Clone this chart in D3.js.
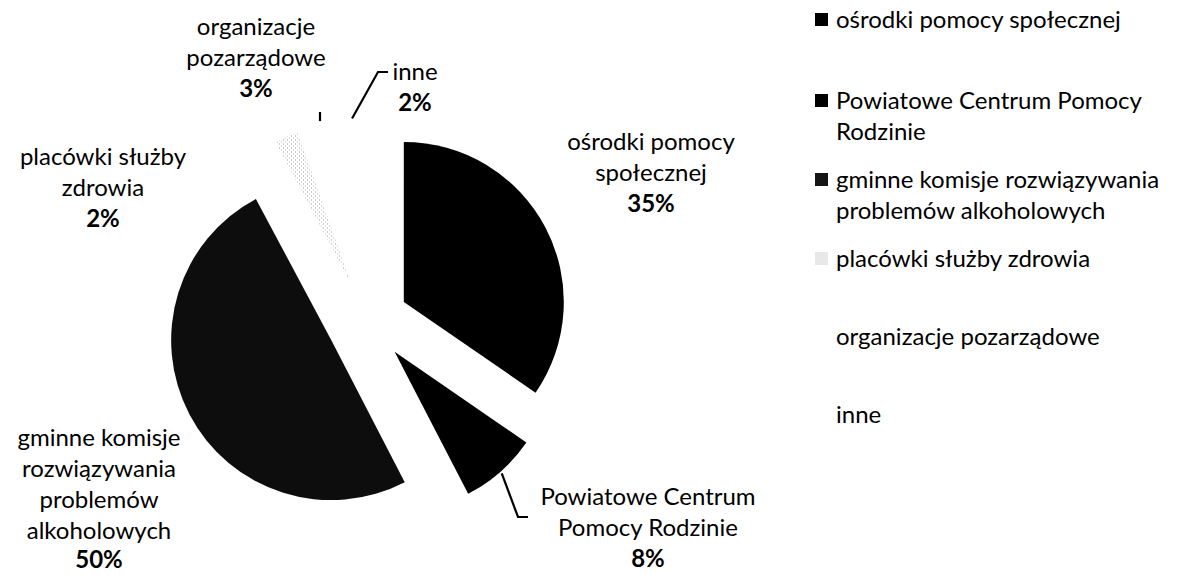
<!DOCTYPE html>
<meta charset="utf-8">
<style>
  body { margin: 0; background: #fff; }
  text { font-family: Lato, "Open Sans", sans-serif; fill: #000; }
</style>
<svg width="1182" height="575"></svg>
<script src="https://d3js.org/d3.v7.min.js"></script>
<script>

  var categories = ["ośrodki pomocy społecznej", "Powiatowe Centrum Pomocy Rodzinie",
    "gminne komisje rozwiązywania problemów alkoholowych", "placówki służby zdrowia",
    "organizacje pozarządowe", "inne"];
  var shares = [34.6, 7.8, 49.8, 2.4, 3.0, 2.4];
  var pctLabels = ["35%", "8%", "50%", "2%", "3%", "2%"];
  var sliceLabelLines = [
    ["ośrodki pomocy", "społecznej"],
    ["Powiatowe Centrum", "Pomocy Rodzinie"],
    ["gminne komisje", "rozwiązywania", "problemów", "alkoholowych"],
    ["placówki służby", "zdrowia"],
    ["organizacje", "pozarządowe"],
    ["inne"]
  ];
  var legendLines = [
    ["ośrodki pomocy społecznej"],
    ["Powiatowe Centrum Pomocy", "Rodzinie"],
    ["gminne komisje rozwiązywania", "problemów alkoholowych"],
    ["placówki służby zdrowia"],
    ["organizacje pozarządowe"],
    ["inne"]
  ];

  var svg = d3.select("svg"),
      cx = 367.5, cy = 321, radius = 160, explode = 41,
      fontSize = 24, lineH = 31;

  var defs = svg.append("defs");
  var dots = defs.append("pattern").attr("id", "stipple")
    .attr("width", 4).attr("height", 4).attr("patternUnits", "userSpaceOnUse");
  dots.append("rect").attr("x", 0).attr("y", 0).attr("width", 1).attr("height", 1).attr("fill", "#999");
  dots.append("rect").attr("x", 2).attr("y", 2).attr("width", 1).attr("height", 1).attr("fill", "#bbb");

  var fills = ["#000", "#000", "#0d0d0d", "url(#stipple)", "#fff", "#fff"];
  var legendFills = ["#000", "#000", "#151515", "#e8e8e8", "none", "none"];

  var pie = d3.pie().sort(null).value(function(d) { return d; });
  var arc = d3.arc().innerRadius(0).outerRadius(radius);
  var arcs = pie(shares);

  function mid(d) { return (d.startAngle + d.endAngle) / 2; }
  function offset(d) {
    var a = mid(d);
    return [cx + explode * Math.sin(a), cy - explode * Math.cos(a)];
  }
  function outer(d, r) {
    var a = mid(d), o = offset(d);
    return [o[0] + r * Math.sin(a), o[1] - r * Math.cos(a)];
  }

  svg.append("g").selectAll("path")
    .data(arcs)
    .enter().append("path")
    .attr("transform", function(d) { return "translate(" + offset(d) + ")"; })
    .attr("d", arc)
    .attr("fill", function(d, i) { return fills[i]; });

  // label placement (Excel style, set by hand): centre x, first baseline
  var labelPos = [[651, 150], [648, 505], [99, 446], [103, 165], [256, 35], [415, 80]];

  var labels = svg.append("g").attr("text-anchor", "middle").style("font-size", fontSize + "px");
  arcs.forEach(function(d, i) {
    var lines = sliceLabelLines[i];
    var t = labels.append("text").attr("x", labelPos[i][0]).attr("y", labelPos[i][1]);
    lines.forEach(function(s, j) {
      t.append("tspan").attr("x", labelPos[i][0]).attr("dy", j === 0 ? 0 : lineH).text(s);
    });
    t.append("tspan").attr("x", labelPos[i][0]).attr("dy", i === 2 ? lineH - 2 : lineH)
      .attr("font-weight", "bold").text(pctLabels[i]);
  });

  // leader lines
  var line = d3.line();
  var leaders = svg.append("g").attr("fill", "none").attr("stroke", "#000").attr("stroke-width", 2.2);
  var p1 = outer(arcs[1], radius + 2);
  leaders.append("path").attr("d", line([p1, [518, 517], [528, 517]]));
  var p5 = outer(arcs[5], radius + 4);
  leaders.append("path").attr("d", line([[p5[0], p5[1] + 2], [378, 72], [388, 72]]));
  var p4 = outer(arcs[4], radius + 2);
  leaders.append("path").attr("d", line([[320, p4[1] - 3], [320, 112]]));

  // legend
  var legendY = [28, 109, 188, 267, 345, 423];
  var legend = svg.append("g").style("font-size", fontSize + "px");
  categories.forEach(function(c, i) {
    var g = legend.append("g").attr("transform", "translate(815," + legendY[i] + ")");
    g.append("rect").attr("x", 0).attr("y", -15).attr("width", 13).attr("height", 13)
      .attr("fill", legendFills[i]);
    var t = g.append("text").attr("x", 21).attr("y", 0);
    legendLines[i].forEach(function(s, j) {
      t.append("tspan").attr("x", 21).attr("dy", j === 0 ? 0 : lineH).text(s);
    });
  });

</script>
